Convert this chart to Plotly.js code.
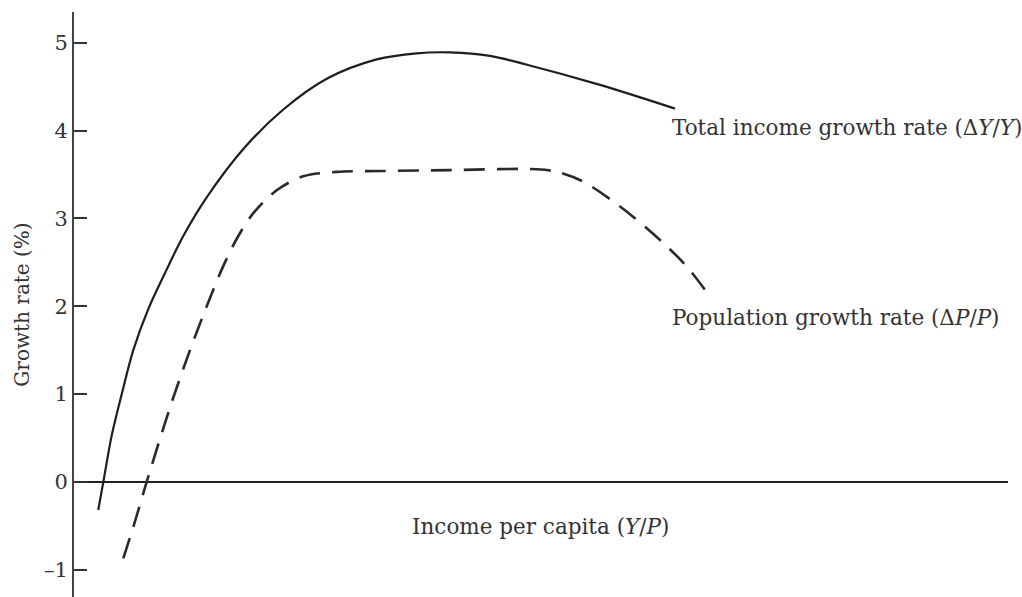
<!DOCTYPE html>
<html>
<head>
<meta charset="utf-8">
<script src="https://cdn.plot.ly/plotly-3.0.1.min.js"></script>
<style>html,body{margin:0;padding:0;background:#fff;}#chart{width:1022px;height:597px;}</style>
</head>
<body>
<div id="chart"></div>
<script>
// Income per capita (arbitrary units, 0-100 across the plot)
const incomeX = [2.6, 3.14, 4.04, 5.11, 6.35, 7.96, 9.93, 11.7, 14.21, 18.13, 22.41, 27.06, 32.41, 36.69, 40.26, 44.54, 48.5, 56.32, 64.35];
// Total income growth rate (%)
const incomeGrowth = [-0.32, 0, 0.53, 1.0, 1.5, 1.97, 2.42, 2.8, 3.24, 3.79, 4.24, 4.59, 4.81, 4.88, 4.89, 4.85, 4.75, 4.52, 4.25];

const popX = [5.28, 6.53, 7.78, 9.56, 10.63, 12.42, 14.21, 15.99, 17.59, 19.2, 21.7, 24.55, 28.13, 33.12, 40.26, 49.57, 51.71, 54.5, 59.85, 65.2, 68.09];
// Population growth rate (%)
const popGrowth = [-0.87, -0.45, 0, 0.61, 0.96, 1.5, 2.0, 2.46, 2.8, 3.06, 3.32, 3.48, 3.53, 3.54, 3.55, 3.56, 3.53, 3.42, 3.02, 2.5, 2.11];

const yTicks = [-1, 0, 1, 2, 3, 4, 5];
const yTickText = ['\u20131', '0', '1', '2', '3', '4', '5'];

const serif = 'DejaVu Serif, Liberation Serif, serif';
const textColor = '#333';

const traces = [
  {
    x: incomeX, y: incomeGrowth, type: 'scatter', mode: 'lines',
    line: {color: '#1e1e1e', width: 2.2, shape: 'spline', smoothing: 0.9},
    hoverinfo: 'skip', showlegend: false
  },
  {
    x: popX, y: popGrowth, type: 'scatter', mode: 'lines',
    line: {color: '#2a2a2a', width: 2.6, shape: 'spline', smoothing: 0.9, dash: '21px,12px'},
    hoverinfo: 'skip', showlegend: false
  }
];

const layout = {
  width: 1022, height: 597,
  margin: {l: 74, r: 14, t: 12, b: 0},
  paper_bgcolor: '#fff', plot_bgcolor: '#fff',
  showlegend: false,
  xaxis: {
    range: [0, 100], showline: false, showgrid: false, zeroline: false,
    showticklabels: false, ticks: ''
  },
  yaxis: {
    range: [-1.31, 5.35],
    tickvals: yTicks, ticktext: yTickText,
    ticks: 'inside', ticklen: 13, tickwidth: 2, tickcolor: '#333',
    showline: true, linecolor: '#444', linewidth: 2,
    showgrid: false,
    zeroline: true, zerolinecolor: '#222', zerolinewidth: 1.6,
    ticklabelstandoff: 0,
    tickfont: {family: serif, size: 21, color: textColor},
    title: {text: 'Growth rate (%)', font: {family: serif, size: 20, color: textColor}, standoff: 9}
  },
  annotations: [
    {xref: 'paper', yref: 'paper', x: 0.638, y: 0.803, xanchor: 'left', yanchor: 'middle',
     text: 'Total income growth rate (\u0394<i>Y</i>/<i>Y</i>)', showarrow: false,
     font: {family: serif, size: 21.5, color: textColor}},
    {xref: 'paper', yref: 'paper', x: 0.638, y: 0.477, xanchor: 'left', yanchor: 'middle',
     text: 'Population growth rate (\u0394<i>P</i>/<i>P</i>)', showarrow: false,
     font: {family: serif, size: 21.5, color: textColor}},
    {xref: 'paper', yref: 'paper', x: 0.499, y: 0.12, xanchor: 'center', yanchor: 'middle',
     text: 'Income per capita (<i>Y</i>/<i>P</i>)', showarrow: false,
     font: {family: serif, size: 21.5, color: textColor}}
  ]
};

Plotly.newPlot('chart', traces, layout, {staticPlot: true, displayModeBar: false});
</script>
</body>
</html>
